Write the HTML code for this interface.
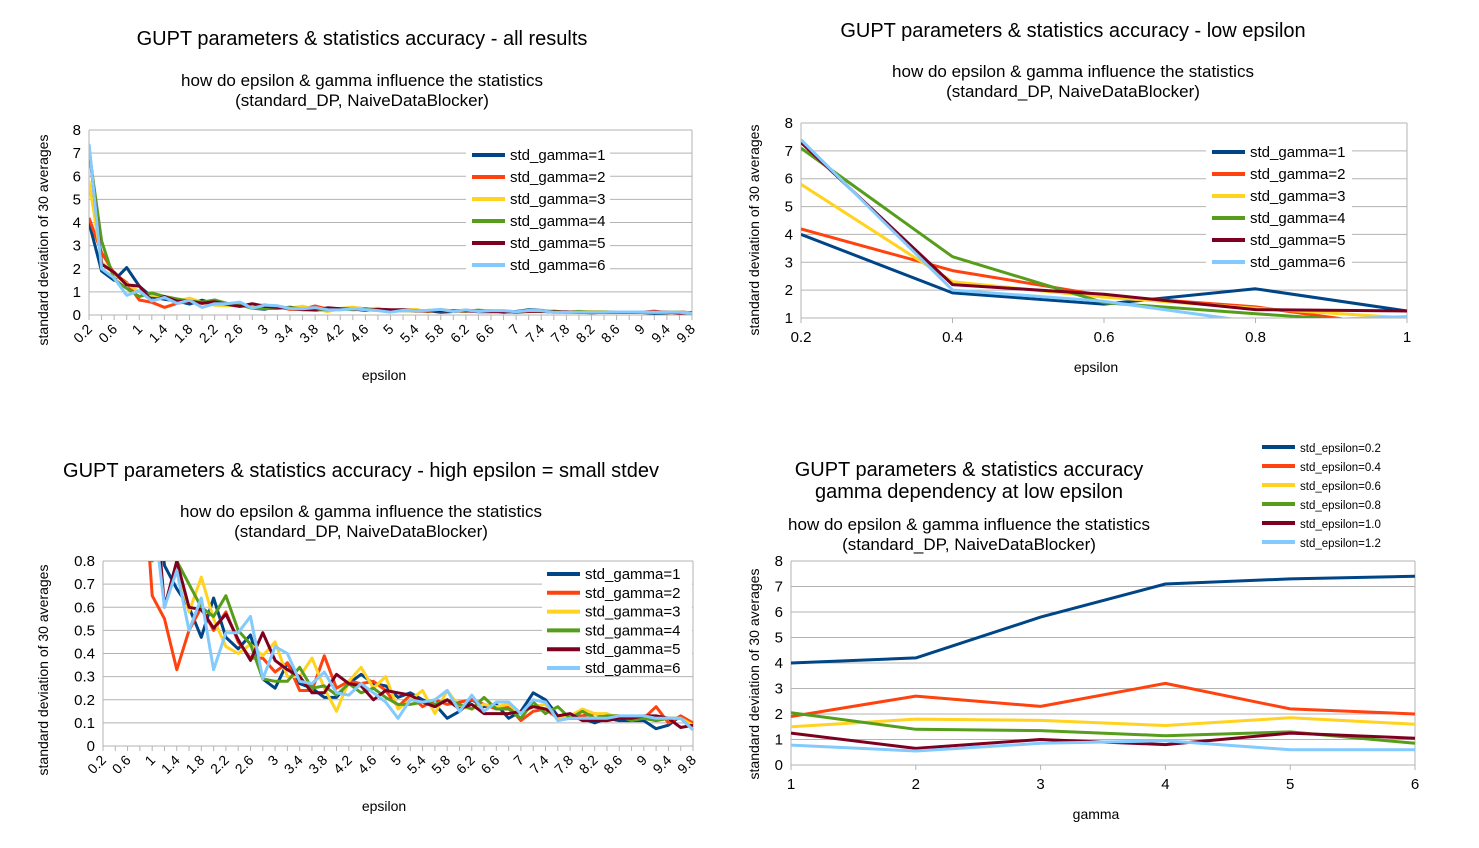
<!DOCTYPE html>
<html><head><meta charset="utf-8"><style>
html,body{margin:0;padding:0;background:#fff;}
svg{display:block;font-family:"Liberation Sans",sans-serif;}
</style></head><body>
<svg id="root" width="1479" height="848" viewBox="0 0 1479 848">
<defs>
<clipPath id="cpA"><rect x="89" y="125" width="604" height="191"/></clipPath>
<clipPath id="cpB"><rect x="801" y="120" width="607" height="198"/></clipPath>
<clipPath id="cpC"><rect x="103" y="561" width="591" height="186"/></clipPath>
<clipPath id="cpD"><rect x="791" y="555" width="625" height="211"/></clipPath>
</defs>
</svg>
<script>
const epsilonCats = ["0.2","0.4","0.6","0.8","1","1.2","1.4","1.6","1.8","2","2.2","2.4","2.6","2.8","3","3.2","3.4","3.6","3.8","4","4.2","4.4","4.6","4.8","5","5.2","5.4","5.6","5.8","6","6.2","6.4","6.6","6.8","7","7.2","7.4","7.6","7.8","8","8.2","8.4","8.6","8.8","9","9.2","9.4","9.6","9.8"];
const gamma1 = [4.0,1.9,1.5,2.05,1.25,0.78,0.68,0.6,0.47,0.64,0.47,0.42,0.48,0.29,0.25,0.36,0.27,0.25,0.21,0.21,0.27,0.31,0.27,0.26,0.21,0.23,0.2,0.18,0.12,0.15,0.2,0.17,0.18,0.12,0.15,0.23,0.2,0.13,0.12,0.12,0.1,0.12,0.11,0.11,0.11,0.075,0.09,0.13,0.09];
const gamma2 = [4.2,2.7,1.8,1.4,0.65,0.55,0.33,0.5,0.6,0.5,0.58,0.45,0.38,0.38,0.32,0.36,0.24,0.24,0.39,0.25,0.28,0.27,0.28,0.24,0.17,0.22,0.17,0.2,0.18,0.19,0.2,0.18,0.16,0.17,0.11,0.15,0.16,0.12,0.13,0.13,0.14,0.13,0.13,0.12,0.12,0.17,0.1,0.13,0.1];
const gamma3 = [5.8,2.3,1.75,1.35,1.0,0.85,0.8,0.58,0.73,0.55,0.43,0.4,0.44,0.39,0.45,0.3,0.3,0.38,0.25,0.15,0.28,0.34,0.25,0.3,0.16,0.2,0.24,0.14,0.24,0.17,0.16,0.18,0.17,0.18,0.14,0.17,0.18,0.12,0.13,0.16,0.14,0.14,0.12,0.13,0.12,0.11,0.12,0.12,0.09];
const gamma4 = [7.1,3.2,1.55,1.15,0.8,0.95,0.8,0.7,0.6,0.56,0.65,0.5,0.44,0.29,0.28,0.28,0.34,0.25,0.26,0.22,0.27,0.23,0.25,0.21,0.18,0.18,0.19,0.18,0.2,0.18,0.16,0.21,0.16,0.16,0.12,0.19,0.14,0.17,0.12,0.15,0.12,0.13,0.13,0.11,0.12,0.11,0.12,0.12,0.07];
const gamma5 = [7.3,2.2,1.85,1.3,1.25,0.6,0.8,0.6,0.59,0.51,0.57,0.46,0.37,0.49,0.37,0.33,0.3,0.23,0.23,0.31,0.27,0.26,0.2,0.24,0.23,0.22,0.19,0.17,0.2,0.16,0.18,0.14,0.14,0.14,0.15,0.17,0.16,0.13,0.14,0.11,0.11,0.11,0.12,0.12,0.13,0.13,0.12,0.08,0.09];
const gamma6 = [7.4,2.0,1.6,0.85,1.05,0.6,0.76,0.5,0.64,0.33,0.49,0.49,0.56,0.29,0.43,0.4,0.28,0.27,0.32,0.23,0.22,0.27,0.23,0.19,0.12,0.2,0.19,0.2,0.24,0.15,0.22,0.15,0.19,0.19,0.14,0.2,0.19,0.11,0.12,0.12,0.12,0.12,0.13,0.13,0.13,0.12,0.12,0.12,0.07];
const gammaNames = ["std_gamma=1","std_gamma=2","std_gamma=3","std_gamma=4","std_gamma=5","std_gamma=6"];
const epsNames = ["std_epsilon=0.2","std_epsilon=0.4","std_epsilon=0.6","std_epsilon=0.8","std_epsilon=1.0","std_epsilon=1.2"];
const gammaCats = ["1","2","3","4","5","6"];
const ticksA = ["0","1","2","3","4","5","6","7","8"];
const ticksB = ["1","2","3","4","5","6","7","8"];
const ticksBx = ["0.2","0.4","0.6","0.8","1"];
const ticksC = ["0","0.1","0.2","0.3","0.4","0.5","0.6","0.7","0.8"];
const colors = ["#004586","#ff420e","#ffd320","#579d1c","#7e0021","#83caff"];

const NS = "http://www.w3.org/2000/svg";
const root = document.getElementById("root");
function mk(tag, attrs, parent, text){
  const e = document.createElementNS(NS, tag);
  for (const k in attrs) e.setAttribute(k, attrs[k]);
  if (text !== undefined) e.textContent = text;
  (parent||root).appendChild(e);
  return e;
}
function txt(x,y,s,size,anchor,parent,name,rot){
  const e = mk("text",{x:x,y:y,"font-size":size,"text-anchor":anchor||"middle",fill:"#000"},parent,s);
  if (rot) e.setAttribute("transform",rot);
  
  
  return e;
}
const allGamma = [gamma1,gamma2,gamma3,gamma4,gamma5,gamma6];

function chart(cfg){
  const g = mk("g",{});
  
  
  const yS = v => cfg.y0 - (v - cfg.vmin)/(cfg.vmax-cfg.vmin)*(cfg.y0-cfg.y1);
  const xS = i => cfg.x0 + i*(cfg.x1-cfg.x0)/(cfg.n-1);
  cfg.yTicks.forEach(t=>{
    const y = yS(parseFloat(t));
    const l = mk("line",{x1:cfg.x0,x2:cfg.x1,y1:y,y2:y,stroke:"#b3b3b3","stroke-width":1},g);
    
    
    txt(cfg.x0-8, y+5, t, 15, "end", g, "y-tick-label");
  });
  mk("line",{x1:cfg.x0,x2:cfg.x0,y1:cfg.y1,y2:cfg.y0+5,stroke:"#b3b3b3"},g);
  mk("line",{x1:cfg.x1,x2:cfg.x1,y1:cfg.y1,y2:cfg.y0,stroke:"#b3b3b3"},g);
  mk("line",{x1:cfg.x0,x2:cfg.x1,y1:cfg.y0,y2:cfg.y0,stroke:"#b3b3b3"},g);
  cfg.xLabels.forEach((s,i)=>{
    const x = cfg.xAt(i, xS);
    mk("line",{x1:x,x2:x,y1:cfg.y0,y2:cfg.y0+5,stroke:"#b3b3b3"},g);
    if (s===null) return;
    if (cfg.rot){
      txt(x+4, cfg.y0+15, s, 14, "end", g, "x-tick-label", "rotate(-45 "+(x+4)+" "+(cfg.y0+15)+")");
    } else {
      txt(x, cfg.y0+24, s, 15, "middle", g, "x-tick-label");
    }
  });
  const sg = mk("g",{"clip-path":"url(#"+cfg.clip+")"},g);
  cfg.series.forEach((arr,si)=>{
    const pts = arr.map((v,i)=>xS(i).toFixed(1)+","+yS(v).toFixed(1)).join(" ");
    const p = mk("polyline",{points:pts,fill:"none",stroke:colors[si],"stroke-width":3,"stroke-linejoin":"round"},sg);
    
    
  });
  const lg = mk("g",{},g);
  
  
  if (cfg.legBg) mk("rect",{x:cfg.legBg[0],y:cfg.legBg[1],width:cfg.legBg[2],height:cfg.legBg[3],fill:"#fff"},lg);
  cfg.legNames.forEach((s,i)=>{
    const y = cfg.legY + i*cfg.legDy;
    const e = mk("g",{},lg);
    
    
    mk("line",{x1:cfg.legX,x2:cfg.legX+33,y1:y,y2:y,stroke:colors[i],"stroke-width":4},e);
    txt(cfg.legX+38, y+5, s, cfg.legSize, "start", e, "legend-label");
  });
}

function titles(cx, lines, sub, subY, ax, axY, ytx, yty){
  lines.forEach(l=>txt(cx,l[1],l[0],20,"middle",root,"chart-title"));
  sub.forEach((s,i)=>txt(cx,subY+i*20,s,17,"middle",root,"chart-subtitle"));
  txt(ax[0],axY,ax[1],14,"middle",root,"x-axis-title");
  txt(ytx,yty,"standard deviation of 30 averages",14,"middle",root,"y-axis-title","rotate(-90 "+ytx+" "+yty+")");
}
const subT = ["how do epsilon & gamma influence the statistics","(standard_DP, NaiveDataBlocker)"];
titles(362,[["GUPT parameters & statistics accuracy - all results",45]],subT,86,[384,"epsilon"],380,48,240);
titles(1073,[["GUPT parameters & statistics accuracy - low epsilon",37]],subT,77,[1096,"epsilon"],372,759,230);
titles(361,[["GUPT parameters & statistics accuracy - high epsilon = small stdev",477]],subT,517,[384,"epsilon"],811,48,670);
titles(969,[["GUPT parameters & statistics accuracy",476],["gamma dependency at low epsilon",498]],subT,530,[1096,"gamma"],819,759,674);

const rotLabels = epsilonCats.map((c,i)=> i%2===0 ? c : null);
chart({name:"chart-all-results",x0:89,x1:692,y0:315,y1:130,vmin:0,vmax:8,n:49,yTicks:ticksA,xLabels:rotLabels,rot:true,xAt:(i,x)=>x(i),
  series:allGamma,clip:"cpA",legNames:gammaNames,legX:472,legY:155,legDy:22,legSize:15,legBg:[466,144,144,130]});
chart({name:"chart-low-epsilon",x0:801,x1:1407,y0:318,y1:123,vmin:1,vmax:8,n:5,yTicks:ticksB,xLabels:ticksBx,rot:false,xAt:(i,x)=>x(i),
  series:allGamma.map(a=>a.slice(0,5)),clip:"cpB",legNames:gammaNames,legX:1212,legY:152,legDy:22,legSize:15,legBg:[1206,141,146,130]});
chart({name:"chart-high-epsilon",x0:103,x1:693,y0:746,y1:561,vmin:0,vmax:0.8,n:49,yTicks:ticksC,xLabels:rotLabels,rot:true,xAt:(i,x)=>x(i),
  series:allGamma,clip:"cpC",legNames:gammaNames,legX:547,legY:574,legDy:18.8,legSize:15,legBg:[542,564,150,112]});
const byEps = [0,1,2,3,4,5].map(e=>allGamma.map(a=>a[e]));
chart({name:"chart-gamma-dependency",x0:791,x1:1415,y0:765,y1:561,vmin:0,vmax:8,n:6,yTicks:ticksA,xLabels:gammaCats,rot:false,xAt:(i,x)=>x(i),
  series:byEps,clip:"cpD",legNames:epsNames,legX:1262,legY:447,legDy:19,legSize:11.5,legBg:null});
</script>
</body></html>
